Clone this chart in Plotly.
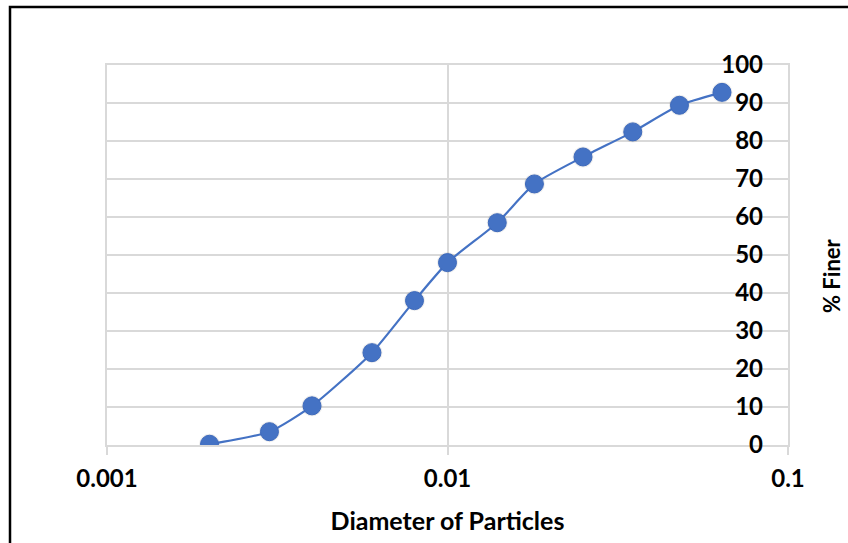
import plotly.graph_objects as go

# Data
diameter = [0.002, 0.003, 0.004, 0.006, 0.008, 0.01, 0.014, 0.018, 0.025, 0.035, 0.048, 0.064]
percent_finer = [0.2, 3.5, 10.3, 24.3, 38.0, 48.0, 58.5, 68.7, 75.8, 82.4, 89.4, 92.8]

x_tick_vals = [0.001, 0.01, 0.1]
x_tick_text = ["0.001", "0.01", "0.1"]
y_tick_vals = [0, 10, 20, 30, 40, 50, 60, 70, 80, 90, 100]

W, H = 848, 543
L, R, T, B = 107, 60, 65, 98
pw, ph = W - L - R, H - T - B

def px_x(p):
    return (p - L) / pw

def px_y(p):
    return (H - B - p) / ph

FONT = "Lato"
BLUE = "#4472C4"
GRID = "#d9d9d9"
TICK_SIZE = 24
TITLE_SIZE = 25

fig = go.Figure()

# soft shadow under markers
fig.add_trace(go.Scatter(
    x=diameter, y=percent_finer, mode="markers",
    marker=dict(size=21, color="rgba(0,0,0,0.07)", line=dict(width=0)),
    hoverinfo="skip", showlegend=False,
))

fig.add_trace(go.Scatter(
    x=diameter, y=percent_finer, mode="lines+markers",
    line=dict(color=BLUE, width=2.2, shape="spline", smoothing=0.6),
    marker=dict(size=18, color=BLUE, line=dict(color="#3d69bb", width=1)),
    showlegend=False,
))

# invisible trace to carry the label axis
fig.add_trace(go.Scatter(
    x=diameter, y=percent_finer, mode="markers", yaxis="y2",
    marker=dict(size=1, opacity=0), hoverinfo="skip", showlegend=False,
))

fig.update_layout(
    width=W, height=H,
    margin=dict(l=L, r=R, t=T, b=B, pad=0),
    paper_bgcolor="white", plot_bgcolor="white",
    font=dict(family=FONT, size=TICK_SIZE, color="black"),
    xaxis=dict(
        type="log", range=[-3, -1],
        tickvals=x_tick_vals, ticktext=x_tick_text,
        tickfont=dict(family=FONT, size=TICK_SIZE, color="black", weight="bold"),
        showgrid=True, gridcolor=GRID, gridwidth=1.5,
        showline=True, linecolor=GRID, linewidth=1.5, mirror=True,
        ticks="outside", ticklen=8, tickcolor=GRID, tickwidth=1.5,
        ticklabelstandoff=3,
        zeroline=False,
        title=dict(text="Diameter of Particles", font=dict(family=FONT, size=TITLE_SIZE, color="black", weight="bold"), standoff=22),
    ),
    yaxis=dict(
        range=[0, 100], tickvals=y_tick_vals,
        showticklabels=False, ticks="",
        showgrid=True, gridcolor=GRID, gridwidth=1.5,
        showline=True, linecolor=GRID, linewidth=1.5, mirror=True,
        zeroline=False,
    ),
    yaxis2=dict(
        range=[0, 100], tickvals=y_tick_vals,
        overlaying="y", anchor="free", position=px_x(763), side="left",
        showgrid=False, showline=False, zeroline=False, ticks="",
        tickfont=dict(family=FONT, size=TICK_SIZE, color="black", weight="bold"),
    ),
    annotations=[dict(
        text="<b>% Finer</b>", textangle=-90,
        xref="paper", yref="paper", x=px_x(831), y=px_y(276),
        xanchor="center", yanchor="middle", showarrow=False,
        font=dict(family=FONT, size=TITLE_SIZE - 3, color="black"),
    )],
    shapes=[dict(
        type="rect", xref="paper", yref="paper",
        x0=px_x(10), x1=px_x(860), y0=px_y(560), y1=px_y(7),
        line=dict(color="black", width=2.5), fillcolor="rgba(0,0,0,0)", layer="above",
    )],
)

fig.write_html("out.html")
